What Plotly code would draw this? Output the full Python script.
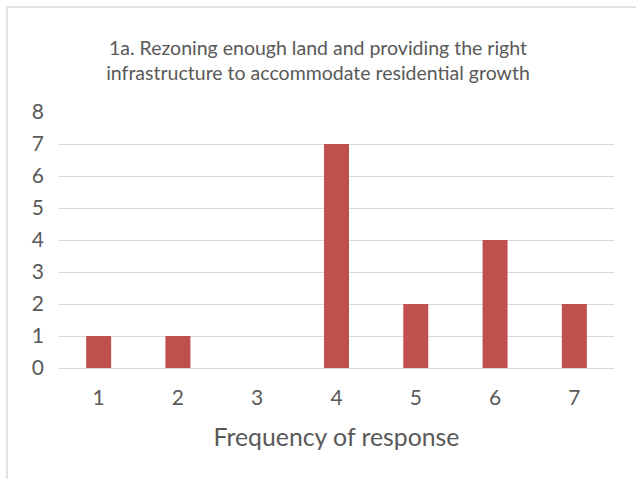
import plotly.graph_objects as go

# response scale categories and counts
categories = ["1", "2", "3", "4", "5", "6", "7"]
counts = [1, 1, 0, 7, 2, 4, 2]
y_ticks = [0, 1, 2, 3, 4, 5, 6, 7, 8]

title_text = ("1a. Rezoning enough land and providing the right<br>"
              "infrastructure to accommodate residential growth")

bar_color = "#C0504D"
text_color = "#595959"
grid_color = "#D9D9D9"
font_family = "Lato, Carlito, Calibri, sans-serif"

# plot area in pixels (for the chart frame)
W, H = 636, 479
L, R, T, B = 59, 22, 112, 111
pw, ph = W - L - R, H - T - B

fig = go.Figure()
fig.add_trace(go.Bar(
    x=categories,
    y=counts,
    marker_color=bar_color,
    marker_line_width=0,
))

# light grey chart frame, as in the Excel export
fig.add_shape(
    type="rect", xref="paper", yref="paper",
    x0=(7 - L) / pw, x1=(W + 5 - L) / pw,
    y0=-(H + 5 - (T + ph)) / ph, y1=(T + ph - 7) / ph,
    line=dict(color="#D9D9D9", width=1.5),
    fillcolor="rgba(0,0,0,0)", layer="below",
)

fig.update_layout(
    width=W, height=H,
    margin=dict(l=L, r=R, t=T, b=B, autoexpand=False),
    paper_bgcolor="white",
    plot_bgcolor="white",
    bargap=0.685,
    showlegend=False,
    font=dict(family=font_family, color=text_color),
    title=dict(
        text=title_text,
        x=0.5, xref="container", xanchor="center",
        y=1 - 55 / H, yref="container", yanchor="middle",
        font=dict(size=19.5, color=text_color, family=font_family),
    ),
    xaxis=dict(
        automargin=False,
        showgrid=False,
        showline=False,
        tickfont=dict(size=21, color=text_color),
        ticklabelstandoff=15,
        title=dict(text="Frequency of response",
                   font=dict(size=24.8, color=text_color),
                   standoff=20),
    ),
    yaxis=dict(
        automargin=False,
        range=[0, 8],
        tickvals=y_ticks,
        showgrid=True,
        gridcolor=grid_color,
        gridwidth=1,
        zeroline=True,
        zerolinecolor=grid_color,
        zerolinewidth=1,
        tickfont=dict(size=21, color=text_color),
        ticklabelstandoff=14,
    ),
)

# drop the browser's default body margin so the chart sits at the page corner
fig.write_html("out.html",
               config={"displayModeBar": False},
               post_script="document.body.style.margin='0';")
